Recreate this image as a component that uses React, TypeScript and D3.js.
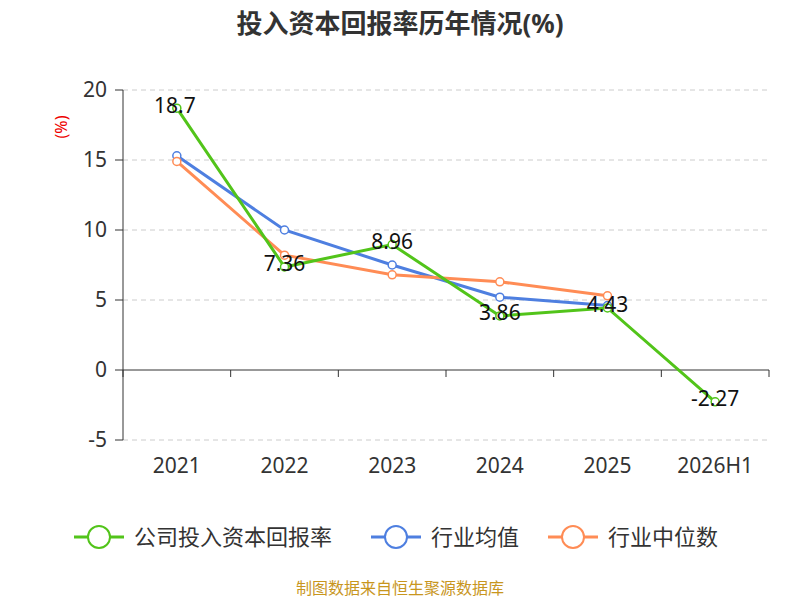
import React from "react";
import * as d3 from "d3";

const categories = ["2021", "2022", "2023", "2024", "2025", "2026H1"];
const company = [18.7, 7.36, 8.96, 3.86, 4.43, -2.27];
const industryAvg = [15.3, 10.0, 7.5, 5.2, 4.6];
const industryMed = [14.9, 8.2, 6.8, 6.3, 5.3];
const yTicks = [-5, 0, 5, 10, 15, 20];

const green = "#52c41a";
const blue = "#4e7fe0";
const orange = "#ff8c55";
const font = "'Noto Sans', 'Noto Sans CJK SC', sans-serif";

export default function App() {
  const x = d3.scaleBand().domain(categories).range([123, 769]);
  const y = d3.scaleLinear().domain([-5, 20]).range([440, 90]);
  const cx = (i: number) => (x(categories[i]) as number) + x.bandwidth() / 2;
  const line = d3.line<number>().x((_, i) => cx(i)).y((d) => y(d));
  const series = [
    { data: industryAvg, color: blue },
    { data: industryMed, color: orange },
    { data: company, color: green },
  ];
  const legend = [
    { name: "公司投入资本回报率", color: green, x: 74 },
    { name: "行业均值", color: blue, x: 371 },
    { name: "行业中位数", color: orange, x: 548 },
  ];
  return (
    <svg width={800} height={600} style={{ position: "absolute", left: 0, top: 0, background: "#fff" }} fontFamily={font}>
      <text x={400} y={33} textAnchor="middle" fontSize={26} fontWeight="bold" fill="#333">投入资本回报率历年情况(%)</text>
      <text x={62} y={127} fontSize={16} fill="#e00" textAnchor="middle" transform="rotate(-90 62 127)" dy="5">(%)</text>
      {yTicks.map((t) => (
        <g key={t}>
          {t !== 0 && <line x1={123} x2={769} y1={y(t)} y2={y(t)} stroke="#ccc" strokeDasharray="5,4" />}
          <line x1={115} x2={123} y1={y(t)} y2={y(t)} stroke="#333" />
          <text x={107} y={y(t)} dy="0.35em" textAnchor="end" fontSize={21} fill="#333">{t}</text>
        </g>
      ))}
      <line x1={123} x2={123} y1={90} y2={440} stroke="#333" />
      <line x1={123} x2={769} y1={y(0)} y2={y(0)} stroke="#333" />
      {categories.map((c, i) => (
        <g key={c}>
          <line x1={(x(c) as number) + x.bandwidth()} x2={(x(c) as number) + x.bandwidth()} y1={y(0)} y2={y(0) + 7} stroke="#333" />
          <text x={cx(i)} y={473} textAnchor="middle" fontSize={21} fill="#333">{c}</text>
        </g>
      ))}
      <line x1={123} x2={123} y1={y(0)} y2={y(0) + 7} stroke="#333" />
      {series.map((s, k) => (
        <g key={k}>
          <path d={line(s.data) || ""} fill="none" stroke={s.color} strokeWidth={3} />
          {s.data.map((d, i) => (
            <circle key={i} cx={cx(i)} cy={y(d)} r={4} fill="#fff" stroke={s.color} strokeWidth={1.5} />
          ))}
        </g>
      ))}
      {company.map((d, i) => (
        <text key={i} x={cx(i) - (i === 0 ? 2 : 0)} y={y(d) - 3} dy="0.35em" textAnchor="middle" fontSize={21} fill="#111">{d}</text>
      ))}
      {legend.map((l) => (
        <g key={l.name}>
          <line x1={l.x} x2={l.x + 50} y1={537} y2={537} stroke={l.color} strokeWidth={3} />
          <circle cx={l.x + 25} cy={537} r={11} fill="#fff" stroke={l.color} strokeWidth={2} />
          <text x={l.x + 60} y={537} dy="0.35em" fontSize={22} fill="#333">{l.name}</text>
        </g>
      ))}
      <text x={400} y={594} textAnchor="middle" fontSize={16} fill="#c8961e">制图数据来自恒生聚源数据库</text>
    </svg>
  );
}
